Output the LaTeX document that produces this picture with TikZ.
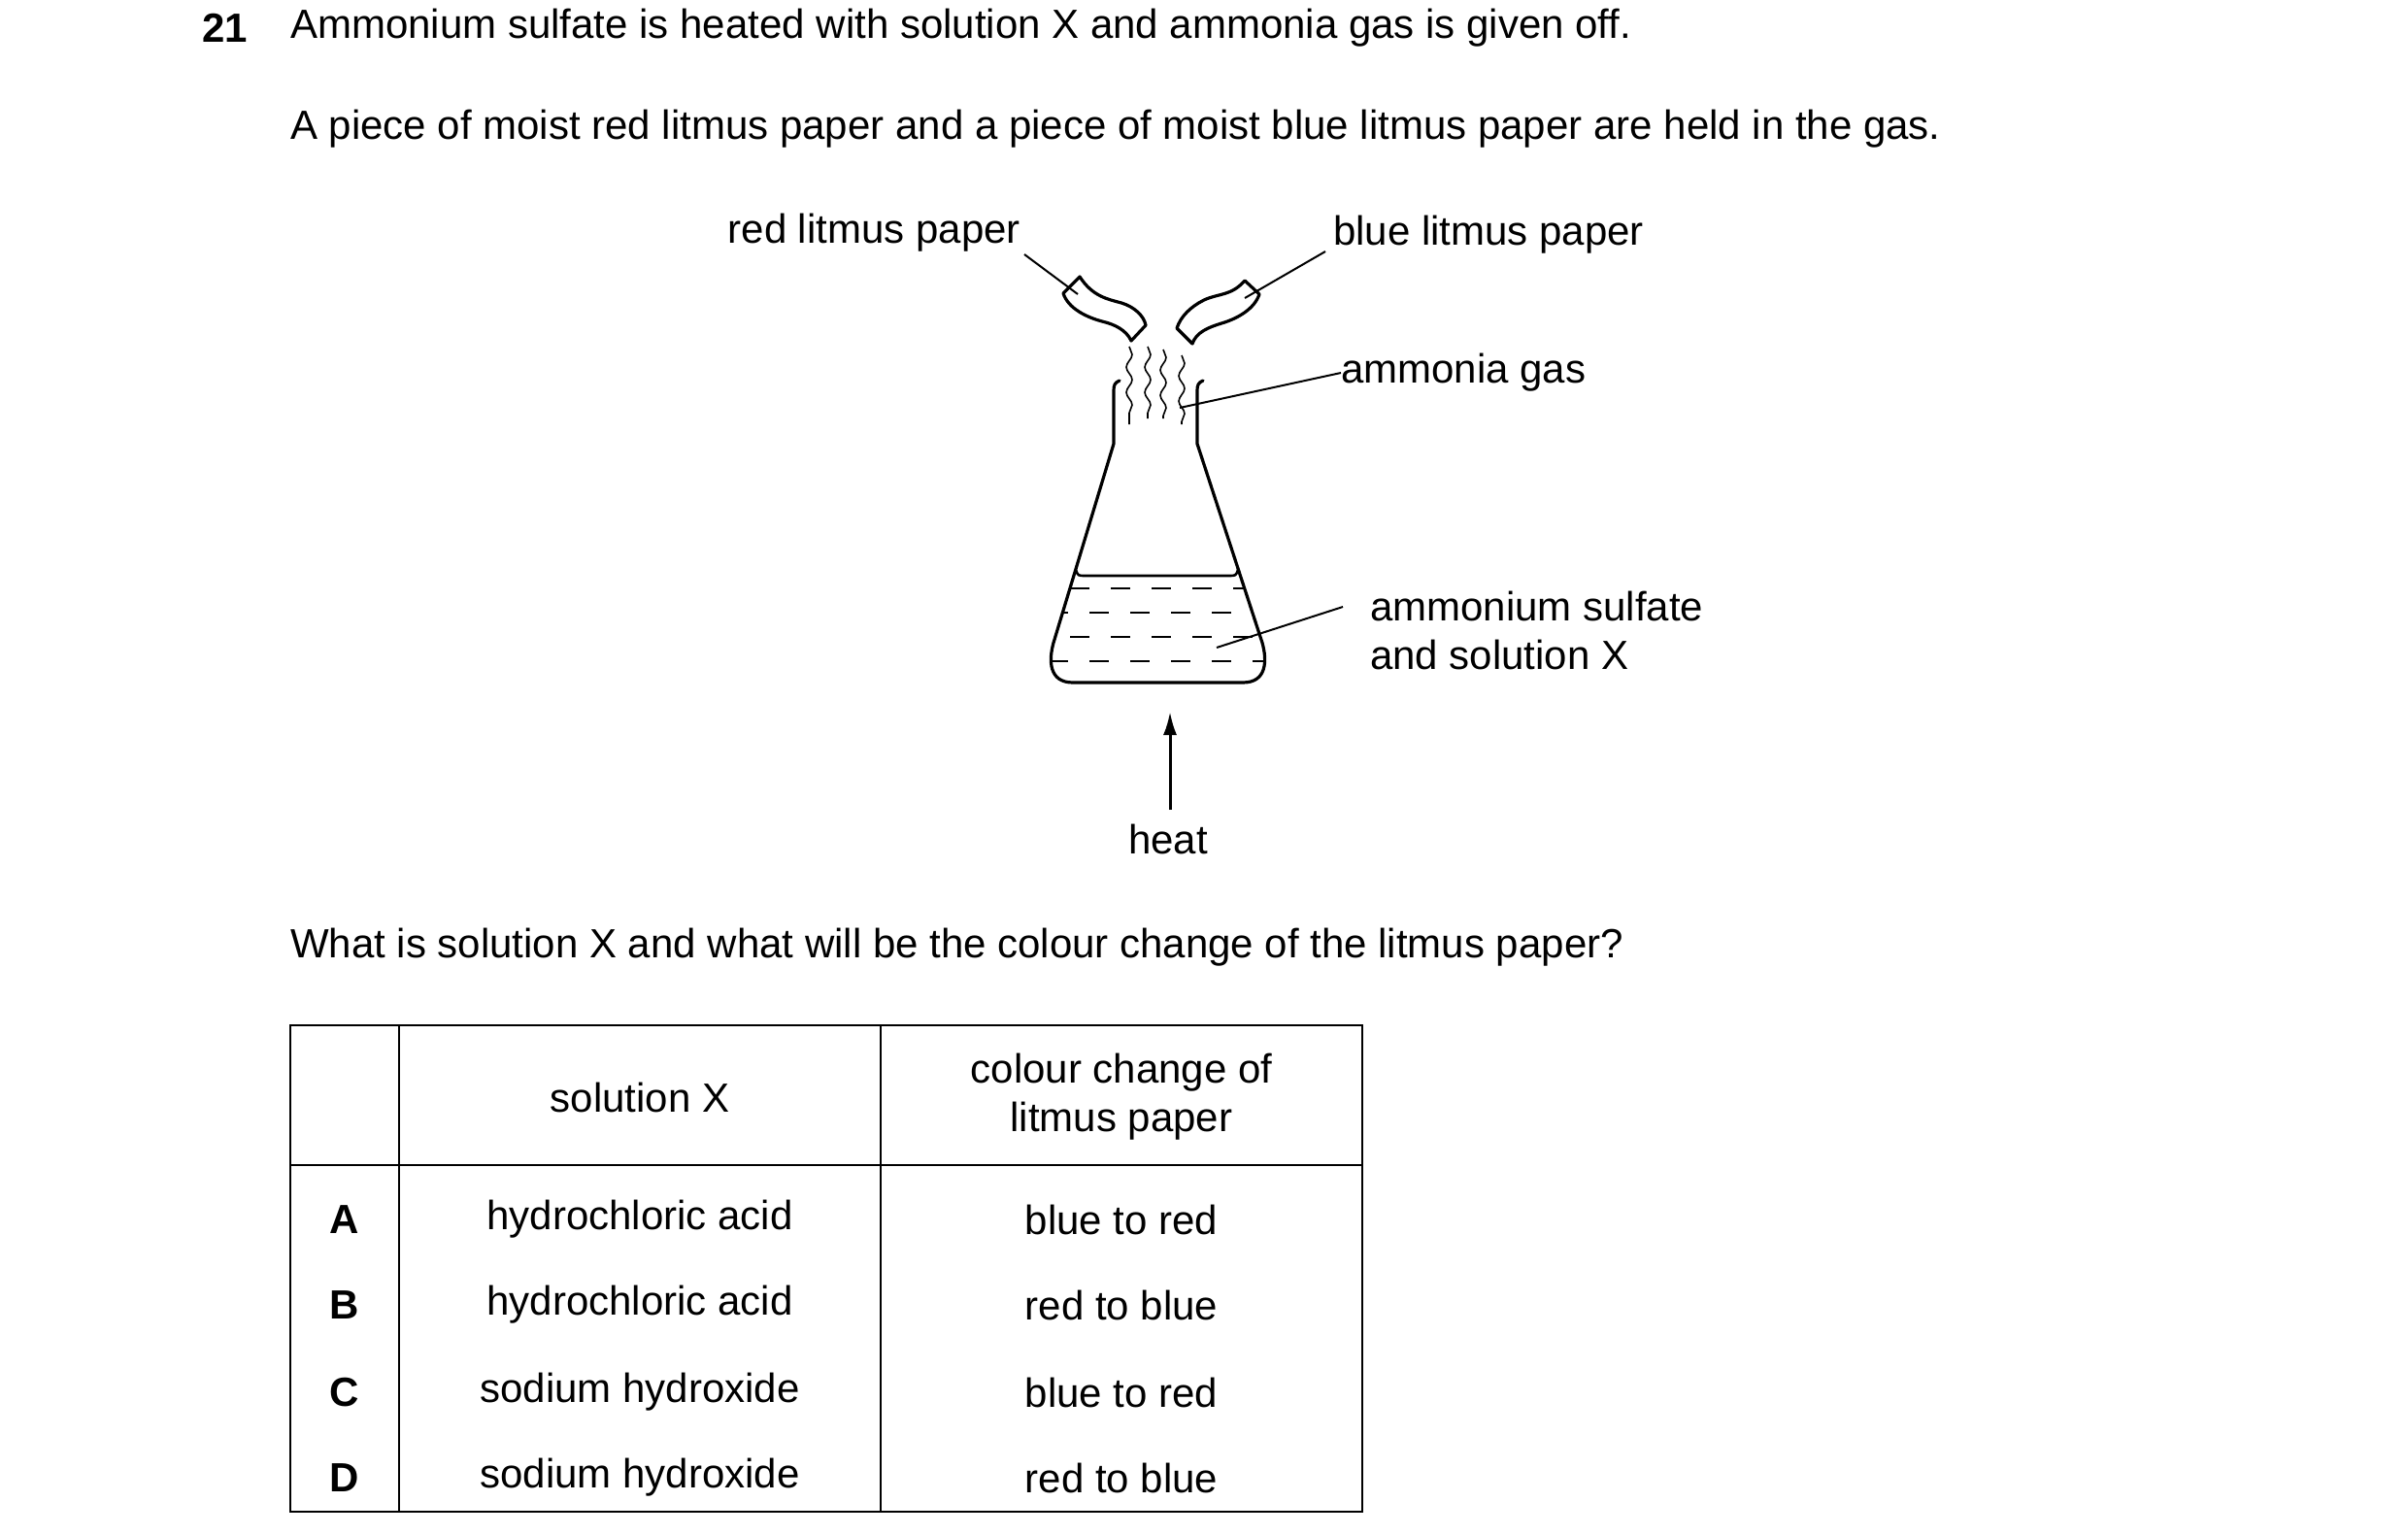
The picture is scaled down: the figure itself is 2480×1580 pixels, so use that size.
\documentclass[tikz,border=0pt]{standalone}
\usepackage{fontspec}
\setmainfont{Liberation Sans}
\usetikzlibrary{decorations.pathmorphing,arrows.meta}
\begin{document}
\begin{tikzpicture}[x=1pt,y=-1pt,
  txt/.style={inner sep=0pt,font=\fontsize{42}{50}\selectfont},
  thick3/.style={line width=3.2pt,line join=round,line cap=round},
  thin2/.style={line width=2pt},
  tab/.style={line width=2.5pt}]
\useasboundingbox (0,0) rectangle (2480,1580);
% texts
\node[txt,anchor=west,font=\fontsize{42}{50}\selectfont\bfseries] (n21) at (208,29) {21};
\node[txt,anchor=west] (l1) at (299,29) {Ammonium sulfate is heated with solution X and ammonia gas is given off.};
\node[txt,anchor=west] (l2) at (299,133) {A piece of moist red litmus paper and a piece of moist blue litmus paper are held in the gas.};
\node[txt,anchor=east] (red) at (1051,240) {red litmus paper};
\node[txt,anchor=west] (blue) at (1373,242) {blue litmus paper};
\node[txt,anchor=west] (gas) at (1381,384) {ammonia gas};
\node[txt,anchor=west,align=left] (amm) at (1411,649) {ammonium sulfate\\and solution X};
\node[txt] (heat) at (1203,864) {heat};
\node[txt,anchor=west] (q) at (299,976) {What is solution X and what will be the colour change of the litmus paper?};
% papers
\draw[thick3] (1112,285) .. controls (1125,305) and (1140,308) .. (1155,312) .. controls (1168,316) and (1178,325) .. (1180,335)
  -- (1165,351) .. controls (1160,340) and (1148,334) .. (1135,331) .. controls (1120,327) and (1100,318) .. (1095,302) -- cycle;
\draw[thick3] (1282,289) .. controls (1268,305) and (1255,302) .. (1240,309) .. controls (1226,316) and (1216,326) .. (1212,338)
  -- (1228,354) .. controls (1232,342) and (1245,337) .. (1258,333) .. controls (1275,328) and (1292,318) .. (1297,303) -- cycle;
\coordinate (rp) at (1110,303);
\coordinate (bp) at (1282,307);
\coordinate (gp) at (1215,420);
\coordinate (lq) at (1253,667);
\draw[thin2] (1055,262) -- (rp);
\draw[thin2] (1365,259) -- (bp);
\draw[thin2] (gas.west) -- (gp);
\draw[thin2] (1383,625) -- (lq);
% gas lines
\foreach \x/\a/\b in {1163/357/437,1182/357/431,1198/360/431,1217/366/437}
  \draw[line width=1.6pt,decorate,decoration={snake,segment length=26,amplitude=3}] (\x,\a) -- (\x,\b);
% flask
\draw[thick3] (1153,392) .. controls (1148,394) and (1147,397) .. (1147,402) -- (1147,457) -- (1085,662)
  .. controls (1080,680) and (1080,703) .. (1105,703) -- (1280,703) .. controls (1305,703) and (1305,680) .. (1300,662)
  -- (1233,457) -- (1233,402) .. controls (1233,397) and (1234,394) .. (1239,392);
\draw[line width=2.6pt,line join=round] (1108,587) .. controls (1110,593) and (1111,593) .. (1117,593) -- (1266,593) .. controls (1272,593) and (1273,593) .. (1275,587);
\begin{scope}
\clip (1147,457) -- (1085,662) .. controls (1080,680) and (1080,703) .. (1105,703) -- (1280,703) .. controls (1305,703) and (1305,680) .. (1300,662) -- (1233,457) -- cycle;
\foreach \y/\o in {606/0,631/22,656/0,681/22}
  \draw[line width=2pt,dash pattern=on 20pt off 22pt,dash phase=\o pt] (1060,\y) -- (1320,\y);
\end{scope}
% heat arrow
\coordinate (ha) at (1205,733);
\draw[line width=3pt,-{Latex[length=24pt,width=14pt]}] (1205,834) -- (ha);
% table
\node[txt] (hx) at (659,1130) {solution X};
\node[txt,align=center] (hc) at (1155,1130) {colour change of\\litmus paper};
\draw[tab] (299,1056) rectangle (1403,1557);
\draw[tab] (299,1200) -- (1403,1200);
\draw[tab] (411,1056) -- (411,1557);
\draw[tab] (907,1056) -- (907,1557);
\foreach \y/\L/\s/\c in {1256/A/hydrochloric acid/blue to red,1344/B/hydrochloric acid/red to blue,1434/C/sodium hydroxide/blue to red,1522/D/sodium hydroxide/red to blue}{
  \node[txt,font=\fontsize{42}{50}\selectfont\bfseries] at (355,\y) {\L};
  \node[txt] at (659,\y) {\s};
  \node[txt] at (1155,\y) {\c};
}
\end{tikzpicture}
\end{document}
